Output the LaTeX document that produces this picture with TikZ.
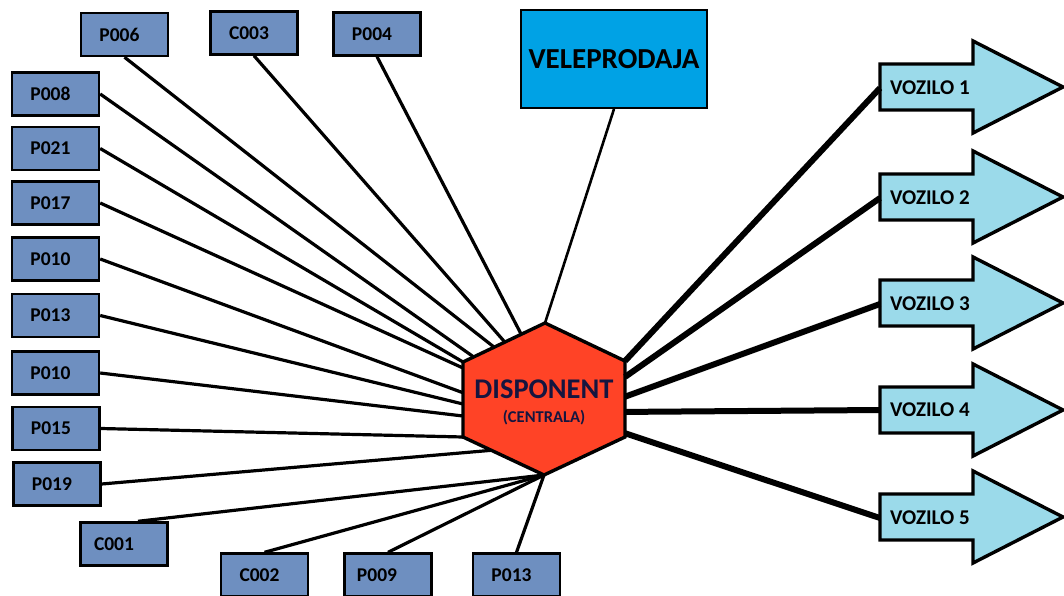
\documentclass[tikz,border=0pt]{standalone}
\usepackage{fontspec}
\setmainfont{Carlito}
\usetikzlibrary{calc}

\definecolor{shopblue}{HTML}{6E8FC0}
\definecolor{wholesale}{HTML}{00A2E5}
\definecolor{hexred}{HTML}{FF4326}
\definecolor{truckblue}{HTML}{9BDAEA}
\definecolor{darknavy}{HTML}{15153F}

\begin{document}
\begin{tikzpicture}[x=1pt, y=-1pt,
        shop/.style={draw=black, line width=2.4pt, fill=shopblue, minimum width=87pt,
            minimum height=43pt, inner sep=0pt, font=\fontsize{19.5}{22}\selectfont\bfseries,
            execute at begin node={\hspace*{-10pt}}},
        link/.style={line width=3.2pt},
        truck/.style={draw=black, line width=3.4pt, fill=truckblue},
        trucklink/.style={line width=6pt},
        trucklabel/.style={anchor=west, inner xsep=10pt, font=\fontsize{21}{24}\selectfont\bfseries}]
    \useasboundingbox (0,0) rectangle (1064,596);

    % shops round the dispatcher
    \node[shop] (p006) at (124.5,34.5) {P006};
    \node[shop] (c003) at (254,33) {C003};
    \node[shop] (p004) at (377,34) {P004};
    \node[shop] (p008) at (55.5,94) {P008};
    \node[shop] (p021) at (55.5,148.5) {P021};
    \node[shop] (p017) at (55.5,203) {P017};
    \node[shop] (p010a) at (55.5,259) {P010};
    \node[shop] (p013a) at (55.5,315.5) {P013};
    \node[shop] (p010b) at (55.5,373) {P010};
    \node[shop] (p015) at (56,428.5) {P015};
    \node[shop] (p019) at (57,484) {P019};
    \node[shop] (c001) at (124,544) {C001\hspace*{10pt}};
    \node[shop] (c002) at (264.5,575) {C002};
    \node[shop] (p009) at (388,575) {P009\hspace*{12pt}};
    \node[shop] (p013b) at (516.5,575) {P013};

    \node[draw=black, line width=2pt, fill=wholesale, minimum width=186pt, minimum height=98pt,
        font=\fontsize{29}{33}\selectfont\bfseries] (veleprodaja) at (614,59) {VELEPRODAJA};

    % hexagon corners
    \coordinate (ht) at (545,323);
    \coordinate (hur) at (625,361);
    \coordinate (hlr) at (625,437);
    \coordinate (hb) at (544,475);
    \coordinate (hll) at (463,437);
    \coordinate (hul) at (463,362);

    \draw[link] (p006.south) -- ($(hul)!0.38!(ht)$);
    \draw[link] (c003.south) -- ($(hul)!0.51!(ht)$);
    \draw[link] (p004.south) -- ($(hul)!0.71!(ht)$);
    \draw[link] (p008.east) -- ($(hul)!0.13!(ht)$);
    \draw[link] (p021.east) -- (hul);
    \draw[link] (p017.east) -- ($(hul)!0.08!(hll)$);
    \draw[link] (p010a.east) -- ($(hul)!0.41!(hll)$);
    \draw[link] (p013a.east) -- ($(hul)!0.56!(hll)$);
    \draw[link] (p010b.east) -- ($(hul)!0.72!(hll)$);
    \draw[link] (p015.east) -- (hll);
    \draw[link] (p019.east) -- ($(hll)!0.35!(hb)$);
    \draw[link] ([xshift=14pt]c001.north) -- (hb);
    \draw[link] (c002.north) -- (hb);
    \draw[link] (p009.north) -- (hb);
    \draw[link] (p013b.north) -- (hb);
    \draw[line width=2.6pt] (veleprodaja.south) -- (ht);

    \filldraw[fill=hexred, draw=black, line width=3.4pt] (ht) -- (hur) -- (hlr) -- (hb) -- (hll) -- (hul) -- cycle;
    \node[anchor=base, text=darknavy, font=\fontsize{28.5}{32}\selectfont\bfseries] (disp) at (544,398) {DISPONENT};
    \node[anchor=base, text=darknavy, font=\fontsize{16.5}{19}\selectfont\bfseries] (centrala) at (544,422) {(CENTRALA)};

    % vehicles
    \draw[truck] (880,64) -- ++(93,0) -- ++(0,-23) -- ++(90,46) -- ++(-90,46) -- ++(0,-23) -- ++(-93,0) -- cycle;
    \draw[truck] (880,174) -- ++(93,0) -- ++(0,-23) -- ++(90,46) -- ++(-90,46) -- ++(0,-23) -- ++(-93,0) -- cycle;
    \draw[truck] (880,280) -- ++(93,0) -- ++(0,-23) -- ++(90,46) -- ++(-90,46) -- ++(0,-23) -- ++(-93,0) -- cycle;
    \draw[truck] (880,387) -- ++(93,0) -- ++(0,-23) -- ++(90,46) -- ++(-90,46) -- ++(0,-23) -- ++(-93,0) -- cycle;
    \draw[truck] (880,494) -- ++(93,0) -- ++(0,-23) -- ++(90,46) -- ++(-90,46) -- ++(0,-23) -- ++(-93,0) -- cycle;
    \node[trucklabel] (v1) at (880,88) {VOZILO 1};
    \node[trucklabel] (v2) at (880,198) {VOZILO 2};
    \node[trucklabel] (v3) at (880,304) {VOZILO 3};
    \node[trucklabel] (v4) at (880,410) {VOZILO 4};
    \node[trucklabel] (v5) at (880,518) {VOZILO 5};

    \draw[trucklink] (hur) -- (v1.west);
    \draw[trucklink] ($(hur)!0.21!(hlr)$) -- (v2.west);
    \draw[trucklink] ($(hur)!0.47!(hlr)$) -- (v3.west);
    \draw[trucklink] ($(hur)!0.67!(hlr)$) -- (v4.west);
    \draw[trucklink] ($(hur)!0.95!(hlr)$) -- (v5.west);
\end{tikzpicture}
\end{document}
